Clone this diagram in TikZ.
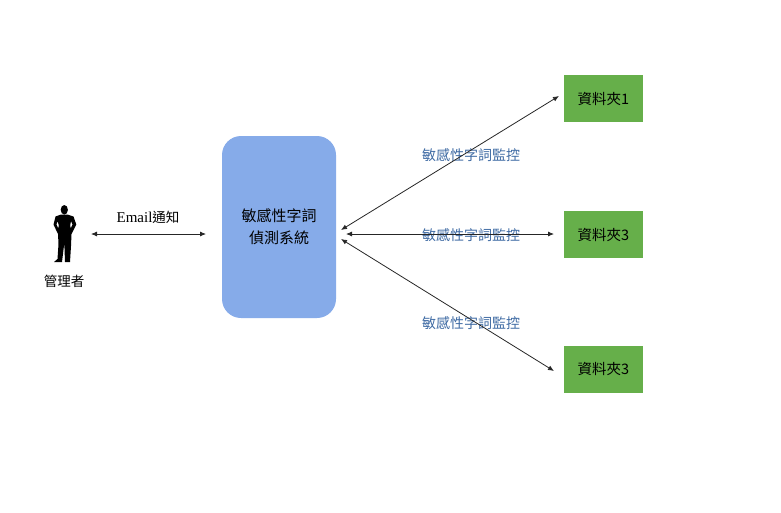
\documentclass[tikz,border=0pt]{standalone}
\usepackage{fontspec}
\setmainfont{Noto Sans CJK TC}
\newfontfamily\latinserif{Liberation Serif}
\usetikzlibrary{arrows.meta}
\definecolor{sysblue}{HTML}{86ABE9}
\definecolor{foldergreen}{HTML}{66AF4A}
\definecolor{labelblue}{HTML}{3E6AA3}
\tikzset{
    folder/.style={fill=foldergreen, minimum width=79pt, minimum height=47pt, inner sep=0pt, font=\fontsize{14.5pt}{16pt}\selectfont},
    watch/.style={text=labelblue, font=\fontsize{14pt}{16pt}\selectfont},
    caption/.style={font=\fontsize{13.5pt}{16pt}\selectfont},
    link/.style={{Latex[length=6pt, width=5pt]}-{Latex[length=6pt, width=5pt]}, draw=black!85, line width=0.8pt},
}
\begin{document}
\begin{tikzpicture}[x=1pt, y=-1pt]
    \useasboundingbox (0,0) rectangle (781,512);
    \node[fill=sysblue, rounded corners=19pt, minimum width=114pt, minimum height=182pt, inner sep=0pt,
          align=center, font=\fontsize{15pt}{22pt}\selectfont] (system) at (279,227) {敏感性字詞\\偵測系統};
    \node[folder] (folder1) at (603.5,98.5) {資料夾1};
    \node[folder] (folder2) at (603.5,234.5) {資料夾3};
    \node[folder] (folder3) at (603.5,369) {資料夾3};
    \node[caption] (admin) at (64,281) {管理者};
    \node[caption] (email) at (148,217) {{\latinserif\fontsize{15pt}{16pt}\selectfont Email}通知};
    \node[watch] (watch1) at (471,155) {敏感性字詞監控};
    \node[watch] (watch2) at (471,235) {敏感性字詞監控};
    \node[watch] (watch3) at (471,323) {敏感性字詞監控};
    % person
    \fill[black] (64.3,209.8) ellipse (3.6 and 4.8);
    \fill[black, even odd rule] (61,214.5) -- (67.5,214.5) -- (73.5,216.5) -- (76.3,224.5) -- (71.5,234) -- (71,246) -- (70,262) -- (65,262) -- (64.3,243)
        -- (62,262) -- (54,262) -- (57.5,259) -- (58.5,244) -- (58,234) -- (53.5,224.5) -- (55.5,216.5) -- cycle
        (57.5,221) -- (56.5,224.5) -- (58.3,228.5) -- (58.8,225) -- cycle
        (71,221) -- (72.5,224.5) -- (70.7,228.5) -- (70.2,225) -- cycle;
    % free ends of the arrows
    \coordinate (adminR) at (91,234);
    \coordinate (systemL) at (206,234);
    \coordinate (systemA) at (341,230);
    \coordinate (systemB) at (346,234);
    \coordinate (systemC) at (341,239);
    \coordinate (folderA) at (559,96);
    \coordinate (folderB) at (554,234);
    \coordinate (folderC) at (554,371);
    \path
    (adminR) edge[link] (systemL)
    (systemA) edge[link] (folderA)
    (systemB) edge[link] (folderB)
    (systemC) edge[link] (folderC);
\end{tikzpicture}
\end{document}
